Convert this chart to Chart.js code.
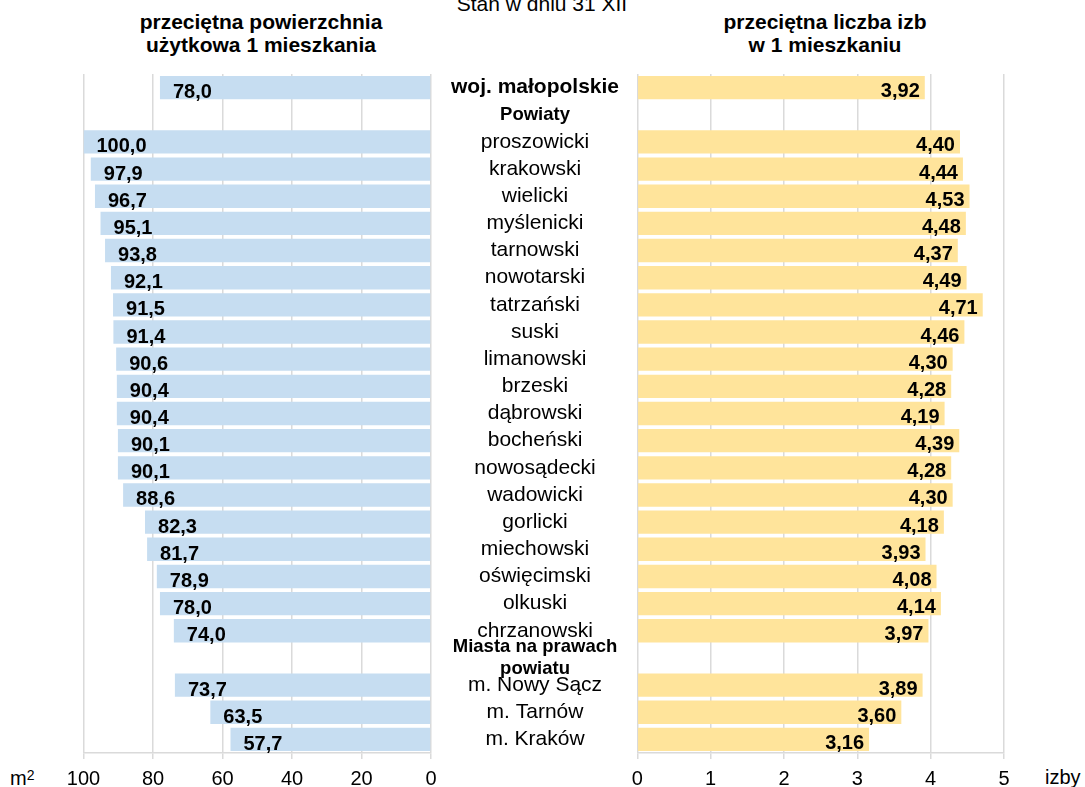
<!DOCTYPE html>
<html lang="pl">
<head>
<meta charset="utf-8">
<script src="https://cdn.jsdelivr.net/npm/chart.js@4/dist/chart.umd.min.js"></script>
<style>
  html, body { margin: 0; padding: 0; background: #fff; }
  body { width: 1085px; height: 787px; position: relative; overflow: hidden;
         font-family: "Liberation Sans", Arial, sans-serif; color: #000; }
  canvas { position: absolute; top: 0; }
  #cLeft { left: 0; }
  #cRight { left: 600px; }
  .txt { position: absolute; white-space: nowrap; }
  .hdr { font-weight: bold; font-size: 21px; line-height: 23.3px; text-align: center; width: 400px; top: 10px; }
</style>
</head>
<body>
<div class="txt" style="left:342px;width:400px;text-align:center;top:-8px;font-size:21px;line-height:24px;">Stan w dniu 31 XII</div>
<div class="txt hdr" style="left:61px;">przeciętna powierzchnia<br>użytkowa 1 mieszkania</div>
<div class="txt hdr" style="left:625px;">przeciętna liczba izb<br>w 1 mieszkaniu</div>
<div class="txt" style="left:10px;top:766px;font-size:20px;line-height:24px;">m<sup style="font-size:14px;position:relative;top:-3px;vertical-align:top;">2</sup></div>
<div class="txt" style="left:1045px;top:765px;font-size:20px;line-height:24px;">izby</div>

<canvas id="cLeft" width="640" height="787"></canvas>
<canvas id="cRight" width="485" height="787"></canvas>

<script>
const categories = [
  "woj. małopolskie", "Powiaty",
  "proszowicki", "krakowski", "wielicki", "myślenicki", "tarnowski", "nowotarski",
  "tatrzański", "suski", "limanowski", "brzeski", "dąbrowski", "bocheński",
  "nowosądecki", "wadowicki", "gorlicki", "miechowski", "oświęcimski", "olkuski",
  "chrzanowski", ["Miasta na prawach", "powiatu"],
  "m. Nowy Sącz", "m. Tarnów", "m. Kraków"
];
const areaValues = [
  78.0, null,
  100.0, 97.9, 96.7, 95.1, 93.8, 92.1, 91.5, 91.4, 90.6, 90.4, 90.4, 90.1, 90.1,
  88.6, 82.3, 81.7, 78.9, 78.0, 74.0, null,
  73.7, 63.5, 57.7
];
const roomValues = [
  3.92, null,
  4.40, 4.44, 4.53, 4.48, 4.37, 4.49, 4.71, 4.46, 4.30, 4.28, 4.19, 4.39, 4.28,
  4.30, 4.18, 3.93, 4.08, 4.14, 3.97, null,
  3.89, 3.60, 3.16
];
const areaTicks = [0, 20, 40, 60, 80, 100];
const roomTicks = [0, 1, 2, 3, 4, 5];
const boldRows = [0];
const headerRows = [1, 21];

const FONT = '"Liberation Sans", Arial, sans-serif';
const GRID = '#dadada';

function fmt(v, d) { return v.toFixed(d).replace('.', ','); }

function valueLabels(decimals, side) {
  return {
    id: 'valueLabels',
    afterDatasetsDraw(chart) {
      const ctx = chart.ctx;
      const meta = chart.getDatasetMeta(0);
      const data = chart.data.datasets[0].data;
      ctx.save();
      ctx.font = 'bold 20px ' + FONT;
      ctx.fillStyle = '#000';
      ctx.textBaseline = 'middle';
      meta.data.forEach((bar, i) => {
        const v = data[i];
        if (v === null || v === undefined) return;
        if (side === 'left') {
          ctx.textAlign = 'left';
          ctx.fillText(fmt(v, decimals), bar.x + 13, bar.y + 5);
        } else {
          ctx.textAlign = 'right';
          ctx.fillText(fmt(v, decimals), bar.x - 5, bar.y + 4);
        }
      });
      ctx.restore();
    }
  };
}

function xScale(max, step, reverse, ticksList) {
  return {
    type: 'linear',
    position: 'bottom',
    min: 0, max: max, reverse: reverse,
    afterBuildTicks: (s) => { s.ticks = ticksList.map(v => ({ value: v })); },
    afterFit: (s) => { s.height = 34; },
    grid: { color: GRID, lineWidth: 1.5, drawTicks: true, tickLength: 6, tickColor: GRID },
    border: { display: true, color: GRID, width: 1.5 },
    ticks: { color: '#000', font: { family: FONT, size: 20 }, padding: 8,
             stepSize: step, callback: (v) => String(v) }
  };
}

new Chart(document.getElementById('cLeft'), {
  type: 'bar',
  data: {
    labels: categories,
    datasets: [{ data: areaValues, backgroundColor: '#c6ddf1', borderWidth: 0,
                 barPercentage: 0.86, categoryPercentage: 1.0 }]
  },
  options: {
    indexAxis: 'y',
    responsive: false,
    animation: false,
    devicePixelRatio: 1,
    layout: { padding: { left: 83.5, right: 0, top: 74, bottom: 0 } },
    plugins: { legend: { display: false }, tooltip: { enabled: false } },
    scales: {
      x: xScale(100, 20, true, areaTicks),
      y: {
        position: 'right',
        afterFit: (s) => { s.width = 209; },
        grid: { display: false, drawTicks: false },
        border: { display: false },
        ticks: {
          autoSkip: false,
          crossAlign: 'center',
          padding: 20,
          color: '#000',
          font: (c) => {
            if (boldRows.includes(c.index)) return { family: FONT, size: 21, weight: 'bold' };
            if (headerRows.includes(c.index)) return { family: FONT, size: 18.5, weight: 'bold', lineHeight: 1.15 };
            return { family: FONT, size: 21 };
          }
        }
      }
    }
  },
  plugins: [valueLabels(1, 'left')]
});

new Chart(document.getElementById('cRight'), {
  type: 'bar',
  data: {
    labels: categories,
    datasets: [{ data: roomValues, backgroundColor: '#ffe49b', borderWidth: 0,
                 barPercentage: 0.86, categoryPercentage: 1.0 }]
  },
  options: {
    indexAxis: 'y',
    responsive: false,
    animation: false,
    devicePixelRatio: 1,
    layout: { padding: { left: 37.3, right: 81, top: 74, bottom: 0 } },
    plugins: { legend: { display: false }, tooltip: { enabled: false } },
    scales: {
      x: xScale(5, 1, false, roomTicks),
      y: { display: false }
    }
  },
  plugins: [valueLabels(2, 'right')]
});
</script>
</body>
</html>
